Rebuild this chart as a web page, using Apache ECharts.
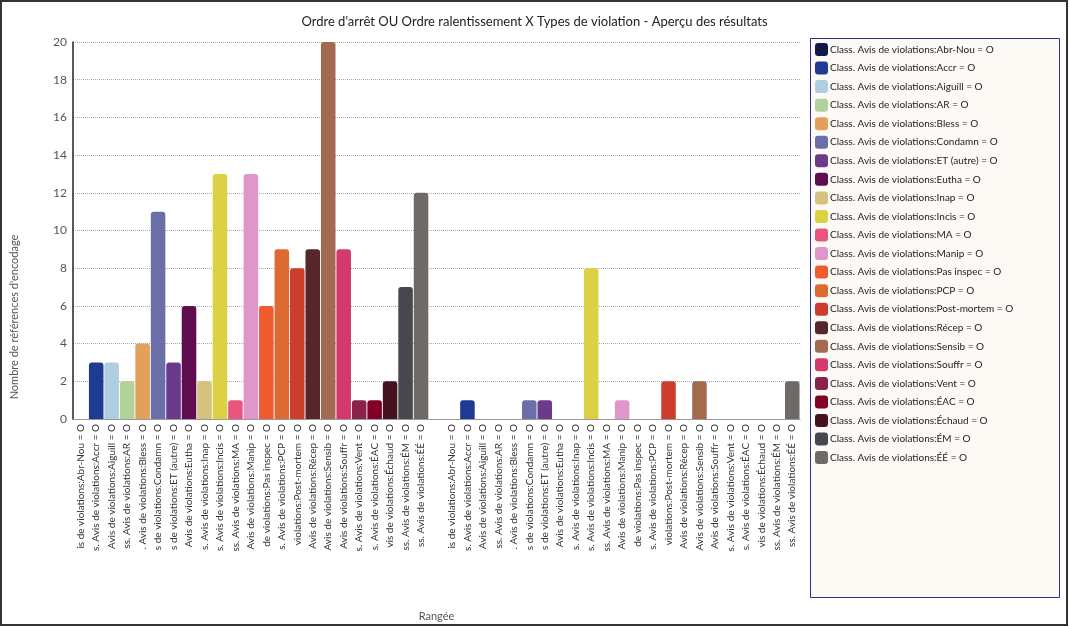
<!DOCTYPE html>
<html><head><meta charset="utf-8">
<script src="https://cdn.jsdelivr.net/npm/echarts@6/dist/echarts.min.js"></script>
<style>html,body{margin:0;padding:0;background:#fff}#c{width:1069px;height:627px}</style>
</head><body><div id="c"></div>
<script>
const chartTitle = "Ordre d'arrêt OU Ordre ralentissement X Types de violation - Aperçu des résultats";
const yAxisTitle = "Nombre de références d'encodage";
const xAxisTitle = "Rangée";
const types = ["Abr-Nou","Accr","Aiguill","AR","Bless","Condamn","ET (autre)","Eutha","Inap","Incis","MA","Manip","Pas inspec","PCP","Post-mortem","Récep","Sensib","Souffr","Vent","ÉAC","Échaud","ÉM","ÉÉ"];
const seriesNames = types.map(t => "Class. Avis de violations:" + t + " = O");
const row1Values = [0,3,3,2,4,11,3,6,2,13,1,13,6,9,8,9,20,9,1,1,2,7,12];
const row2Values = [0,1,0,0,0,1,1,0,0,8,0,1,0,0,2,0,2,0,0,0,0,0,2];
const colors = ["#111a48","#1f3a93","#aecfdf","#b3d19b","#e3a05a","#6b6fa8","#6c3a8a","#5e0d4f","#d6c27f","#dcd044","#e9557b","#e096c9","#ef5a2e","#dd6a33","#cc3d2e","#55262a","#a36a50","#d23a6e","#8a2249","#820028","#45131f","#47474f","#6f6a68"];
const yMin = 0, yMax = 20, yInterval = 2;

const categories = seriesNames.concat([""]).concat(seriesNames);
const offset2 = seriesNames.length + 1;

const mctx = document.createElement('canvas').getContext('2d');
mctx.font = '10px Lato';
function tail(s, max) {
  let i = 0;
  while (i < s.length && mctx.measureText(s.slice(i)).width > max) i++;
  return s.slice(i);
}

const series = seriesNames.map((name, i) => {
  const data = categories.map(() => '-');
  data[i] = row1Values[i];
  data[offset2 + i] = row2Values[i];
  return {
    name: name, type: 'bar', stack: 'all', data: data,
    barCategoryGap: '6%',
    itemStyle: { color: colors[i], borderRadius: [3,3,0,0] },
    emphasis: { disabled: true }
  };
});

const chart = echarts.init(document.getElementById('c'));
chart.setOption({
  animation: false,
  textStyle: { fontFamily: 'Lato' },
  title: { text: chartTitle, left: 'center', top: 10,
    textStyle: { fontSize: 13, fontWeight: 'normal', color: '#222', fontFamily: 'Lato' } },
  grid: { left: 73, right: 269, top: 42, bottom: 205, containLabel: false },
  xAxis: {
    type: 'category', data: categories,
    name: xAxisTitle, nameLocation: 'middle', nameGap: 192,
    nameTextStyle: { fontSize: 11, color: '#555' },
    axisLine: { lineStyle: { color: '#999', width: 1 } },
    axisTick: { show: false },
    axisLabel: { interval: 0, rotate: 90, fontSize: 10, color: '#333', margin: 5,
      formatter: v => tail(v, 128) }
  },
  yAxis: {
    type: 'value', min: yMin, max: yMax, interval: yInterval,
    axisLine: { show: true, lineStyle: { color: '#222', width: 1.5 } },
    axisTick: { show: false },
    axisLabel: { fontSize: 12, color: '#555', margin: 6 },
    splitLine: { lineStyle: { color: '#aaa', type: [1,1] } }
  },
  legend: {
    orient: 'vertical', left: 815, top: 43, padding: 0,
    itemWidth: 13, itemHeight: 13, itemGap: 5.55, icon: 'roundRect',
    selectedMode: false,
    textStyle: { fontSize: 10, color: '#222', padding: [0,0,0,-3] },
    data: seriesNames
  },
  graphic: [
    { type: 'rect', z: -1, silent: true, shape: { x: 810.5, y: 38.5, width: 249, height: 559 },
      style: { fill: '#fdfaf6', stroke: '#2e2e9a', lineWidth: 1 } },
    { type: 'rect', z: 100, silent: true, shape: { x: 1, y: 1, width: 1066, height: 624 },
      style: { fill: 'none', stroke: '#333', lineWidth: 2 } },
    { type: 'text', x: 14, y: 317, rotation: Math.PI / 2, silent: true,
      style: { text: yAxisTitle, textAlign: 'center', textVerticalAlign: 'middle',
        font: '11px Lato', fill: '#555' } }
  ],
  series: series
});
</script></body></html>
